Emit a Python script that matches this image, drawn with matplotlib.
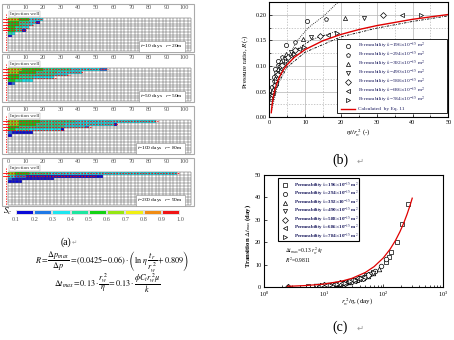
import matplotlib
matplotlib.use('Agg')
import matplotlib.pyplot as plt
from matplotlib.patches import Rectangle
from matplotlib.lines import Line2D
from matplotlib.colors import ListedColormap, BoundaryNorm
from matplotlib.ticker import FormatStrFormatter, MultipleLocator
import numpy as np

# ---------------- data ----------------
# (a) saturation colour scale
sc_bounds = [0.1, 0.2, 0.3, 0.4, 0.5, 0.6, 0.7, 0.8, 0.9, 1.0]
sc_colors = ['#0a0ad8', '#1e78e6', '#1ee6f0', '#1ee6a0', '#14d214',
             '#96e614', '#f0f014', '#f08c14', '#f01414']

panel_times = ['10', '50', '100', '200']
panel_radii = ['20', '50', '80', '90']

# per row: list of (number of cells, Sc)
a1_runs = [[(3, 0.62), (3, 0.5), (4, 0.36)],
           [(3, 0.58), (3, 0.48), (2, 0.36), (1, 0.15)],
           [(3, 0.55), (2, 0.45), (2, 0.36)],
           [(2, 0.55), (2, 0.45), (2, 0.36)],
           [(2, 0.5), (2, 0.4), (1, 0.12)],
           [(1, 0.48), (1, 0.38)],
           [(1, 0.15)]]
a2_runs = [[(4, 0.62), (6, 0.5), (8, 0.42), (8, 0.35), (2, 0.22)],
           [(3, 0.6), (5, 0.5), (6, 0.42), (7, 0.35)],
           [(3, 0.58), (5, 0.48), (5, 0.4), (4, 0.35)],
           [(3, 0.55), (4, 0.47), (6, 0.38)],
           [(2, 0.52), (2, 0.42), (3, 0.35)],
           [(1, 0.12), (1, 0.22)]]
a3_runs = [[(3, 0.64), (6, 0.52), (10, 0.42), (23, 0.35)],
           [(3, 0.6), (5, 0.5), (8, 0.42), (14, 0.35), (1, 0.12)],
           [(3, 0.58), (5, 0.48), (8, 0.4), (6, 0.33), (1, 0.25)],
           [(2, 0.55), (4, 0.45), (9, 0.36), (1, 0.12)],
           [(1, 0.22), (6, 0.14)],
           [(1, 0.12)]]
a4_runs = [[(2, 0.66), (4, 0.55), (6, 0.45), (36, 0.35)],
           [(2, 0.3), (3, 0.22), (22, 0.14)],
           [(1, 0.25), (12, 0.13)],
           [(4, 0.13)]]
panel_runs = [a1_runs, a2_runs, a3_runs, a4_runs]

# streamline (red dashed) lengths per row
a1_streams = [20, 18, 15, 12, 10]
a2_streams = [57, 43, 35, 27]
a3_streams = [85, 63, 47, 32]
a4_streams = [97, 50]
panel_streams = [a1_streams, a2_streams, a3_streams, a4_streams]

# (b) pressure ratio
perm_vals = ['196', '294', '392', '490', '588', '686', '784']
b_markers = ['o', 'p', '^', 'v', 'D', '<', '>']
b_x = [[0.25, 0.5, 0.8, 1.2, 1.7, 2.4, 4.7, 10.6],
       [0.38, 0.75, 1.2, 1.8, 2.55, 3.6, 7.05, 15.9],
       [0.5, 1.0, 1.6, 2.4, 3.4, 4.8, 9.4, 21.2],
       [0.63, 1.25, 2.0, 3.0, 4.25, 6.0, 11.75, 26.5],
       [0.75, 1.5, 2.4, 3.6, 5.1, 7.2, 14.1, 31.8],
       [0.88, 1.75, 2.8, 4.2, 5.95, 8.4, 16.45, 37.1],
       [1.0, 2.0, 3.2, 4.8, 6.8, 9.6, 18.8, 42.4]]
b_R = [[0.030, 0.040, 0.060, 0.078, 0.095, 0.110, 0.141, 0.187],
       [0.036, 0.048, 0.070, 0.088, 0.103, 0.118, 0.147, 0.191],
       [0.040, 0.055, 0.076, 0.094, 0.109, 0.124, 0.153, 0.194],
       [0.043, 0.060, 0.081, 0.099, 0.113, 0.128, 0.156, 0.194],
       [0.046, 0.064, 0.085, 0.103, 0.117, 0.131, 0.159, 0.199],
       [0.048, 0.067, 0.088, 0.106, 0.120, 0.134, 0.161, 0.199],
       [0.050, 0.070, 0.091, 0.109, 0.123, 0.137, 0.165, 0.199]]
b_dot_x = [0.67, 2.5, 3.9, 5.8, 8.1, 10.9, 15.1, 18.8, 19.5]
b_dot_R = [0.014, 0.067, 0.099, 0.125, 0.152, 0.175, 0.197, 0.222, 0.226]
b_dd1_x = [1.0, 2.0, 4.0, 7.6, 12.0, 18.8]
b_dd1_R = [0.045, 0.075, 0.105, 0.132, 0.152, 0.168]
b_dd2_x = [1.0, 2.0, 5.0, 10.0, 20.0, 30.0, 40.0, 50.0]
b_dd2_R = [0.033, 0.060, 0.098, 0.127, 0.157, 0.174, 0.187, 0.198]
b_eq_x = [0.55, 0.7, 0.8, 1.0, 1.2, 1.5, 2.0, 2.5, 3.0, 4.0, 5.0, 7.0, 10.0,
          15.0, 20.0, 25.0, 30.0, 40.0, 50.0]
b_eq_R = [0.0090, 0.0192, 0.0249, 0.0344, 0.0421, 0.0516, 0.0638, 0.0733,
          0.0811, 0.0933, 0.1028, 0.1171, 0.1322, 0.1495, 0.1617, 0.1712,
          0.1789, 0.1912, 0.2006]

# (c) transition time
c_markers = ['s', 'o', '^', 'v', 'D', '<', '>']
c_x = [[5.4, 18.7, 36, 52, 68, 109, 125, 137, 167, 207, 255],
       [8, 14, 24, 35, 45, 60, 73, 91, 111],
       [9, 16, 21, 28, 34, 45, 55, 68, 84],
       [7.5, 12, 17, 22, 27, 36, 44, 55, 67],
       [2.5, 10, 14, 19, 23, 30, 37, 45, 56],
       [8.5, 11, 15, 20, 26, 32, 39, 48],
       [2.6, 9.5, 13, 17, 23, 28, 34, 42]]
c_y = [[0.45, 1.2, 3.1, 5.4, 6.8, 11.3, 13.5, 15.5, 20.2, 28.0, 37.0],
       [0.6, 1.1, 2.0, 3.2, 4.2, 5.7, 7.0, 9.2, 12.6],
       [0.6, 1.2, 1.7, 2.4, 3.0, 4.2, 5.1, 6.4, 8.2],
       [0.5, 0.9, 1.3, 1.8, 2.3, 3.2, 4.0, 5.1, 6.3],
       [0.2, 0.8, 1.1, 1.6, 2.0, 2.7, 3.4, 4.1, 5.2],
       [0.6, 0.8, 1.2, 1.7, 2.2, 2.8, 3.5, 4.4],
       [0.2, 0.7, 1.0, 1.4, 2.0, 2.5, 3.0, 3.8]]
c_fit_x = [2.5, 3, 5, 10, 20, 30, 50, 70, 100, 130, 160, 190, 220, 250, 280, 305]
c_fit_y = [0.33, 0.39, 0.65, 1.3, 2.6, 3.9, 6.5, 9.1, 13.0, 16.9, 20.8, 24.7,
           28.6, 32.5, 36.4, 39.65]

# ---------------- figure ----------------
W, H = 454, 340
plt.rcParams['font.family'] = ['Liberation Serif', 'DejaVu Sans']
plt.rcParams['mathtext.fontset'] = 'stix'
fig = plt.figure(figsize=(W / 100, H / 100), dpi=100)


def add_ax(l, t, r, b):
    return fig.add_axes([l / W, 1 - b / H, (r - l) / W, (b - t) / H])


def ftext(x, y, s, **kw):
    return fig.text(x / W, 1 - y / H, s, **kw)


cmap = ListedColormap(sc_colors)
norm = BoundaryNorm(sc_bounds, cmap.N)

# ---------- (a) grids ----------
ncol, nrow = 52, 12
for i, top in enumerate([4, 54, 106, 158]):
    ax = add_ax(2, top, 194, top + 48)
    ax.set_xlim(-3.41, 105.68)
    ax.set_ylim(12.36, -5.09)
    ax.axis('off')
    Z = np.full((nrow, ncol), np.nan)
    for r, runs in enumerate(panel_runs[i]):
        c = 0
        for n, sc in runs:
            Z[r, c:c + n] = sc
            c += n
    xe = np.arange(0, 2 * ncol + 1, 2)
    ye = np.arange(0, nrow + 1)
    ax.pcolormesh(xe, ye, np.ma.masked_invalid(Z), cmap=cmap, norm=norm)
    ax.vlines(xe, 0, nrow, color='#555555', lw=0.35)
    ax.hlines(ye, 0, 2 * ncol, color='#555555', lw=0.35)
    for v in range(0, 101, 10):
        ax.text(v, -3.85, str(v), ha='center', va='center', fontsize=4.5,
                color='#555555')
    ax.add_patch(Rectangle((0, 0), 1, 1, transform=ax.transAxes, fill=False,
                           ec='#aaaaaa', lw=0.8, clip_on=False))
    # injection well
    ax.plot([-1.2, -1.2], [-1.5, nrow], color='red', lw=0.6,
            ls=(0, (1.5, 1.5)))
    for r, L in enumerate(panel_streams[i]):
        ax.plot([0, L], [r + 0.5, r + 0.5], color='red', lw=0.6,
                ls=(0, (2, 1.5)))
        ax.plot([-2.8, 0], [r + 0.5, r + 0.5], color='red', lw=0.6)
    ax.text(1, -1.5, 'Injection well', fontsize=3.8, va='center', ha='left',
            color='#333333',
            bbox=dict(fc='white', ec='#999999', lw=0.3, pad=0.6))
    ax.text(99.5, 10.3,
            r'$t$=' + panel_times[i] + r' days   $r$= ' + panel_radii[i] + 'm',
            ha='right', va='center', fontsize=3.9,
            bbox=dict(fc='white', ec='#888888', lw=0.4, pad=1.0))

# colour bar
axcb = add_ax(16, 210, 180, 215)
centers = [[(sc_bounds[j] + sc_bounds[j + 1]) / 2 for j in range(9)]]
axcb.pcolormesh(sc_bounds, [0, 1], centers, cmap=cmap, norm=norm,
                edgecolors='#dddddd', linewidth=0.3)
axcb.set_xlim(0.1, 1.0)
axcb.set_yticks([])
axcb.set_xticks(sc_bounds)
axcb.set_xticklabels(['%.1f' % v for v in sc_bounds])
axcb.tick_params(axis='x', length=0, labelsize=4.5, pad=1.2,
                 labelcolor='#555555')
for s in axcb.spines.values():
    s.set_visible(False)
ftext(8, 211, r'$S_c$', fontsize=6.5, ha='center', va='center')

ftext(66, 242, '(a)', fontsize=7, ha='center', va='center')
ftext(74, 243, '\u21b5', fontsize=4.5, color='#999999', ha='center',
      va='center', family='DejaVu Sans')

f1 = (r'$R=\dfrac{\Delta p_{max}}{\Delta p}=(0.0425\mathrm{-}0.06)\cdot'
      r'\left(\ln\,\eta\,\dfrac{t_r}{r_w^{\,2}}+0.809\right)$')
ftext(112, 261, f1, fontsize=5.9, ha='center', va='center')
f2 = (r'$\Delta t_{max}=0.13\cdot\dfrac{r_w^{\,2}}{\eta}=0.13\cdot'
      r'\dfrac{\phi C_t r_w^{\,2}\mu}{k}$')
ftext(107, 283, f2, fontsize=5.9, ha='center', va='center')

# ---------- (b) ----------
axb = add_ax(269.3, 2, 448.3, 117.3)
axb.set_xlim(0, 50)
axb.set_ylim(0, 0.225)
axb.xaxis.set_major_locator(MultipleLocator(10))
axb.xaxis.set_minor_locator(MultipleLocator(5))
axb.yaxis.set_major_locator(MultipleLocator(0.05))
axb.yaxis.set_minor_locator(MultipleLocator(0.025))
axb.yaxis.set_major_formatter(FormatStrFormatter('%.2f'))
axb.grid(which='major', color='#b4b4b4', lw=0.5, ls='-')
axb.grid(which='minor', color='#b4b4b4', lw=0.5, ls=(0, (2, 2)))
axb.set_axisbelow(True)
axb.tick_params(which='both', direction='in', width=0.5, labelsize=4.5, pad=2)
axb.tick_params(which='major', length=2)
axb.tick_params(which='minor', length=1.2)
for s in axb.spines.values():
    s.set_linewidth(0.8)
axb.plot(b_dot_x, b_dot_R, color='black', lw=0.6, ls=(0, (1, 1.5)))
axb.plot(b_dd1_x, b_dd1_R, color='black', lw=0.6, ls=(0, (3, 1.5, 1, 1.5)))
axb.plot(b_dd2_x, b_dd2_R, color='black', lw=0.6, ls=(0, (3, 1.5, 1, 1.5)))
for xs, rs, m in zip(b_x, b_R, b_markers):
    axb.plot(xs, rs, ls='none', marker=m, ms=3, mfc='white', mec='black',
             mew=0.5)
axb.plot(b_eq_x, b_eq_R, color='#e00000', lw=1.0)

ftext(245, 62, 'Pressure ratio, $R$(-)', rotation=90, fontsize=5,
      ha='center', va='center')
ftext(358, 133, r'$\eta t/r_w^{\ 2}$ (-)', fontsize=5, ha='center',
      va='center')

# legend (b)
fig.add_artist(Rectangle((337 / W, 1 - 113 / H), 110 / W, 74 / H,
                         transform=fig.transFigure, fc='white', ec='black',
                         lw=0.6))
ys_b = [46, 55, 64, 73, 82, 91, 100]
for yy, m, k in zip(ys_b, b_markers, perm_vals):
    fig.add_artist(Line2D([348.3 / W], [1 - yy / H], marker=m, ms=3,
                          mfc='white', mec='black', mew=0.5, ls='none',
                          transform=fig.transFigure))
    ftext(358.3, yy, r'Permeability $k$=' + k + r'$\times$10$^{-15}$ m$^2$',
          fontsize=3.9, color='#1a1a5e', ha='left', va='center')
fig.add_artist(Line2D([341 / W, 355 / W], [1 - 108.7 / H] * 2,
                      color='#e00000', lw=1.0, transform=fig.transFigure))
ftext(358.3, 108.7, 'Calculated  by Eq. 11', fontsize=3.9, color='#1a1a5e',
      ha='left', va='center')

ftext(340, 160, '(b)', fontsize=10, ha='center', va='center')
ftext(360, 161, '\u21b5', fontsize=6, color='#999999', ha='center',
      va='center', family='DejaVu Sans')

# ---------- (c) ----------
axc = add_ax(264, 175, 443, 287)
axc.set_xscale('log')
axc.set_xlim(1, 1000)
axc.set_ylim(0, 50)
axc.yaxis.set_major_locator(MultipleLocator(10))
axc.tick_params(which='both', direction='in', width=0.5, labelsize=4.5, pad=2)
axc.tick_params(which='major', length=2)
axc.tick_params(which='minor', length=1.2)
for s in axc.spines.values():
    s.set_linewidth(0.8)
for xs, ys, m in zip(c_x, c_y, c_markers):
    axc.plot(xs, ys, ls='none', marker=m, ms=3.3, mfc='white', mec='black',
             mew=0.5)
axc.plot(c_fit_x, c_fit_y, color='#e00000', lw=0.9)

fig.add_artist(Rectangle((278.3 / W, 1 - 241 / H), 81 / W, 62.7 / H,
                         transform=fig.transFigure, fc='white', ec='black',
                         lw=0.8))
ys_c = [185.5, 194, 202.5, 211, 219.5, 228, 236.5]
for yy, m, k in zip(ys_c, c_markers, perm_vals):
    fig.add_artist(Line2D([285 / W], [1 - yy / H], marker=m, ms=3,
                          mfc='white', mec='black', mew=0.5, ls='none',
                          transform=fig.transFigure))
    ftext(293.5, yy, r'Permeability $k$=' + k + r'$\times$10$^{-15}$ m$^2$',
          fontsize=3.6, color='#1a1a5e', ha='left', va='center',
          fontweight='bold')

ftext(285, 251, r'$\Delta t_{max}$=0.13 $r_w^{\ 2}/\eta$', fontsize=4,
      ha='left', va='center')
ftext(285, 260, r'$R^2$=0.9811', fontsize=4, ha='left', va='center')

ftext(248, 236, r'Transition $\Delta t_{max}$ (day)', rotation=90,
      fontsize=4.8, ha='center', va='center', fontweight='bold')
ftext(357, 302, r'$r_w^{\ 2}/\eta$, (day)', fontsize=5, ha='center',
      va='center')

ftext(340, 327, '(c)', fontsize=10, ha='center', va='center')
ftext(360, 328, '\u21b5', fontsize=6, color='#999999', ha='center',
      va='center', family='DejaVu Sans')

fig.savefig('out.png', dpi=100)
